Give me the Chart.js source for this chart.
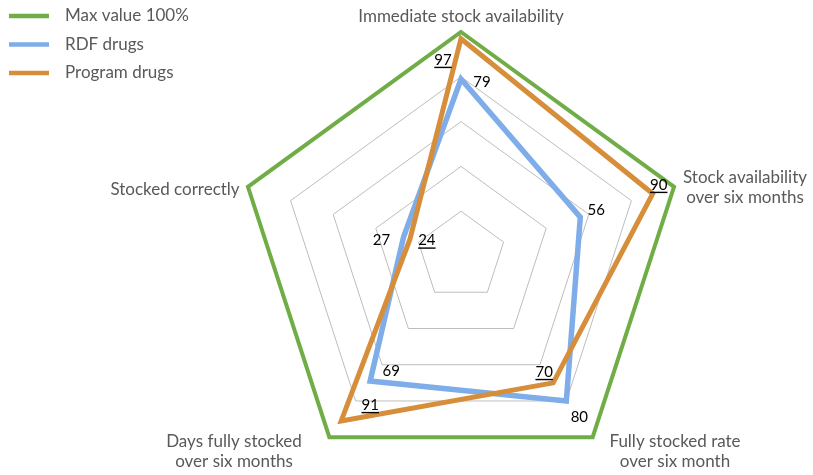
<!DOCTYPE html>
<html>
<head>
<meta charset="utf-8">
<script src="https://cdn.jsdelivr.net/npm/chart.js@4/dist/chart.umd.min.js"></script>
<style>
  html, body { margin: 0; padding: 0; background: #ffffff; }
  canvas { display: block; }
</style>
</head>
<body>
<canvas id="chart" width="813" height="475"></canvas>
<script>
// Axis categories (multi-line where the label wraps)
const categories = [
  ["Immediate stock availability"],
  ["Stock availability", "over six months"],
  ["Fully stocked rate", "over six month"],
  ["Days fully stocked", "over six months"],
  ["Stocked correctly"]
];
const seriesNames = ["Max value 100%", "RDF drugs", "Program drugs"];
const maxValues = [100, 100, 100, 100, 100];
const rdfValues = [79, 56, 80, 69, 27];
const programValues = [97, 90, 70, 91, 24];
const ringTicks = [20, 40, 60, 80, 100];

// Styling / layout
const colors = ["#70AD47", "#7EADE9", "#D68E3A"];
const lineWidths = [4, 5.5, 5];
const FONT = "Lato, 'Open Sans', sans-serif";
const CENTER = { x: 461, y: 256 };
const RADIUS = 224;
// anchor (centre x, first baseline) of each axis caption
const captionAnchors = [[461, 22], [745, 183], [675, 447], [234, 447], [175, 195]];
const captionLineHeight = 20;
// label offsets from each vertex
const rdfLabelOffsets = [[21, 3], [16, -7], [13, 16], [21, -10], [-22, 3]];
const programLabelOffsets = [[-18, 21], [6, -9], [-9, -11], [29, -16], [17, 1]];

const captionsAndLabels = {
  id: "captionsAndLabels",
  afterDraw(chart) {
    const ctx = chart.ctx;
    ctx.save();
    // axis captions
    ctx.fillStyle = "#595959";
    ctx.font = "17px " + FONT;
    ctx.textAlign = "center";
    ctx.textBaseline = "alphabetic";
    categories.forEach((lines, i) => {
      const [ax, ay] = captionAnchors[i];
      lines.forEach((t, k) => ctx.fillText(t, ax, ay + k * captionLineHeight));
    });

    // value labels
    const drawLabels = (dsIndex, offsets, underline) => {
      const meta = chart.getDatasetMeta(dsIndex);
      const values = chart.data.datasets[dsIndex].data;
      ctx.font = "15px " + FONT;
      ctx.fillStyle = "#000000";
      ctx.textAlign = "center";
      ctx.textBaseline = "middle";
      meta.data.forEach((pt, i) => {
        const x = pt.x + offsets[i][0];
        const y = pt.y + offsets[i][1];
        const txt = String(values[i]);
        ctx.fillText(txt, x, y);
        if (underline) {
          const w = ctx.measureText(txt).width;
          ctx.fillRect(x - w / 2, y + 7, w, 1.4);
        }
      });
    };
    drawLabels(1, rdfLabelOffsets, false);
    drawLabels(2, programLabelOffsets, true);

    // legend
    ctx.font = "17px " + FONT;
    ctx.textAlign = "left";
    ctx.textBaseline = "middle";
    chart.data.datasets.forEach((ds, i) => {
      const y = 16 + i * 28.5;
      ctx.fillStyle = ds.borderColor;
      ctx.fillRect(9, y - 2.25, 40, 4.5);
      ctx.fillStyle = "#595959";
      ctx.fillText(ds.label, 65, y);
    });
    ctx.restore();
  }
};

const ds = (label, data, i, order) => ({
  label,
  data,
  borderColor: colors[i],
  backgroundColor: colors[i],
  borderWidth: lineWidths[i],
  borderJoinStyle: "miter",
  fill: false,
  pointRadius: 0,
  pointHoverRadius: 0,
  tension: 0,
  clip: false,
  order
});

new Chart(document.getElementById("chart"), {
  type: "radar",
  data: {
    labels: categories,
    datasets: [
      ds(seriesNames[0], maxValues, 0, 0),
      ds(seriesNames[1], rdfValues, 1, 2),
      ds(seriesNames[2], programValues, 2, 1)
    ]
  },
  options: {
    responsive: false,
    animation: false,
    events: [],
    plugins: { legend: { display: false }, tooltip: { enabled: false } },
    scales: {
      r: {
        min: 0,
        max: 100,
        ticks: { display: false, stepSize: 20 },
        afterBuildTicks(scale) {
          scale.ticks = [0, ...ringTicks].map(v => ({ value: v }));
        },
        grid: { color: "#BDBDBD", lineWidth: 1, circular: false },
        angleLines: { display: false },
        pointLabels: { display: false },
        afterFit(scale) {
          scale.xCenter = CENTER.x;
          scale.yCenter = CENTER.y;
          scale.drawingArea = RADIUS;
        }
      }
    }
  },
  plugins: [captionsAndLabels]
});
</script>
</body>
</html>
